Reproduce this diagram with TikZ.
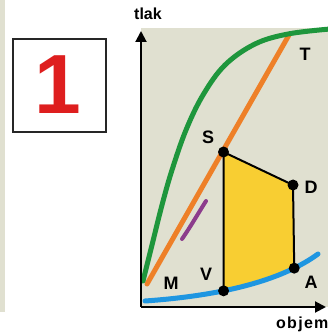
\documentclass[tikz,border=0pt]{standalone}
\usepackage{fontspec}
\setmainfont{Liberation Sans}
\usetikzlibrary{arrows.meta}
\definecolor{bg}{RGB}{224,224,208}
\definecolor{grn}{RGB}{30,150,60}
\definecolor{org}{RGB}{238,128,40}
\definecolor{pur}{RGB}{140,60,140}
\definecolor{blu}{RGB}{30,150,225}
\definecolor{ylw}{RGB}{248,206,50}
\definecolor{redone}{RGB}{222,30,30}
\begin{document}
\begin{tikzpicture}[x=1pt,y=-1pt,
  lbl/.style={font=\fontsize{18}{18}\selectfont\bfseries, inner sep=0pt},
  axlbl/.style={font=\fontsize{16}{16}\selectfont\bfseries, inner sep=0pt, anchor=base west},
  dot/.style={circle, fill=black, minimum size=11pt, inner sep=0pt},
  curve/.style={line width=5pt, line cap=round},
  edge/.style={line width=2pt, line join=round},
  axis/.style={line width=2pt, -{Triangle[length=11pt,width=11pt]}}]
\useasboundingbox (0,0) rectangle (328,336);
\fill[white] (0,0) rectangle (328,336);
\fill[bg] (0,0) rectangle (5,312);
\fill[bg] (141,28) rectangle (328,307);
% numbered box
\node[draw=black!85, line width=1.5pt, minimum width=93pt, minimum height=93pt, inner sep=0pt] (box) at (59.5,85.5) {};
\node[text=redone, font=\fontsize{84}{84}\selectfont\bfseries, inner sep=0pt] (one) at (58,85) {1};
% key points
\coordinate (S) at (223.5,152);
\coordinate (D) at (293,185);
\path (145,301) .. controls (230,295) and (285,278) .. (318,254)
  coordinate[pos=0.35] (V) coordinate[pos=0.79] (A);
% yellow area
\begin{scope}
\clip (145,301) .. controls (230,295) and (285,278) .. (318,254) -- (318,0) -- (145,0) -- cycle;
\fill[ylw] (S) -- (D) -- (A) -- ++(0,30) -| (V) -- cycle;
\end{scope}
% curves
\coordinate (Mp) at (147,284);
\coordinate (Tp) at (289,35);
\draw[org, curve] (Mp) -- (Tp);
\draw[grn, curve] plot[smooth, tension=0.6] coordinates {(143,281) (152,245) (162,205) (172,170) (186,130) (203,95) (225,65) (255,44) (288,34) (330,29)};
\draw[pur, line width=4pt, line cap=round] (182,239) .. controls (191,226) and (199,212) .. (206,201);
\draw[blu, curve] (145,301) .. controls (230,295) and (285,278) .. (318,254);
% cycle edges
\draw[edge] (S) -- (D) -- (A);
\draw[edge] (S) -- (V);
\node[dot] (nS) at (S) {};
\node[dot] (nD) at (D) {};
\node[dot] (nA) at (A) {};
\node[dot] (nV) at (V) {};
% labels
\node[lbl] (lS) at (208,137) {S};
\node[lbl] (lT) at (305,54) {T};
\node[lbl] (lD) at (311,187) {D};
\node[lbl] (lA) at (311,282) {A};
\node[lbl] (lV) at (206,274) {V};
\node[lbl] (lM) at (171,283) {M};
% axes
\coordinate (O) at (141,307);
\coordinate (Ytip) at (141,31);
\coordinate (Xtip) at (326,307);
\draw[axis] (O) -- (Ytip);
\draw[axis] (O) -- (Xtip);
\node[axlbl] (yl) at (134,20) {tlak};
\node[axlbl] (xl) at (276,328) {\addfontfeature{LetterSpace=8}objem};
\end{tikzpicture}
\end{document}
